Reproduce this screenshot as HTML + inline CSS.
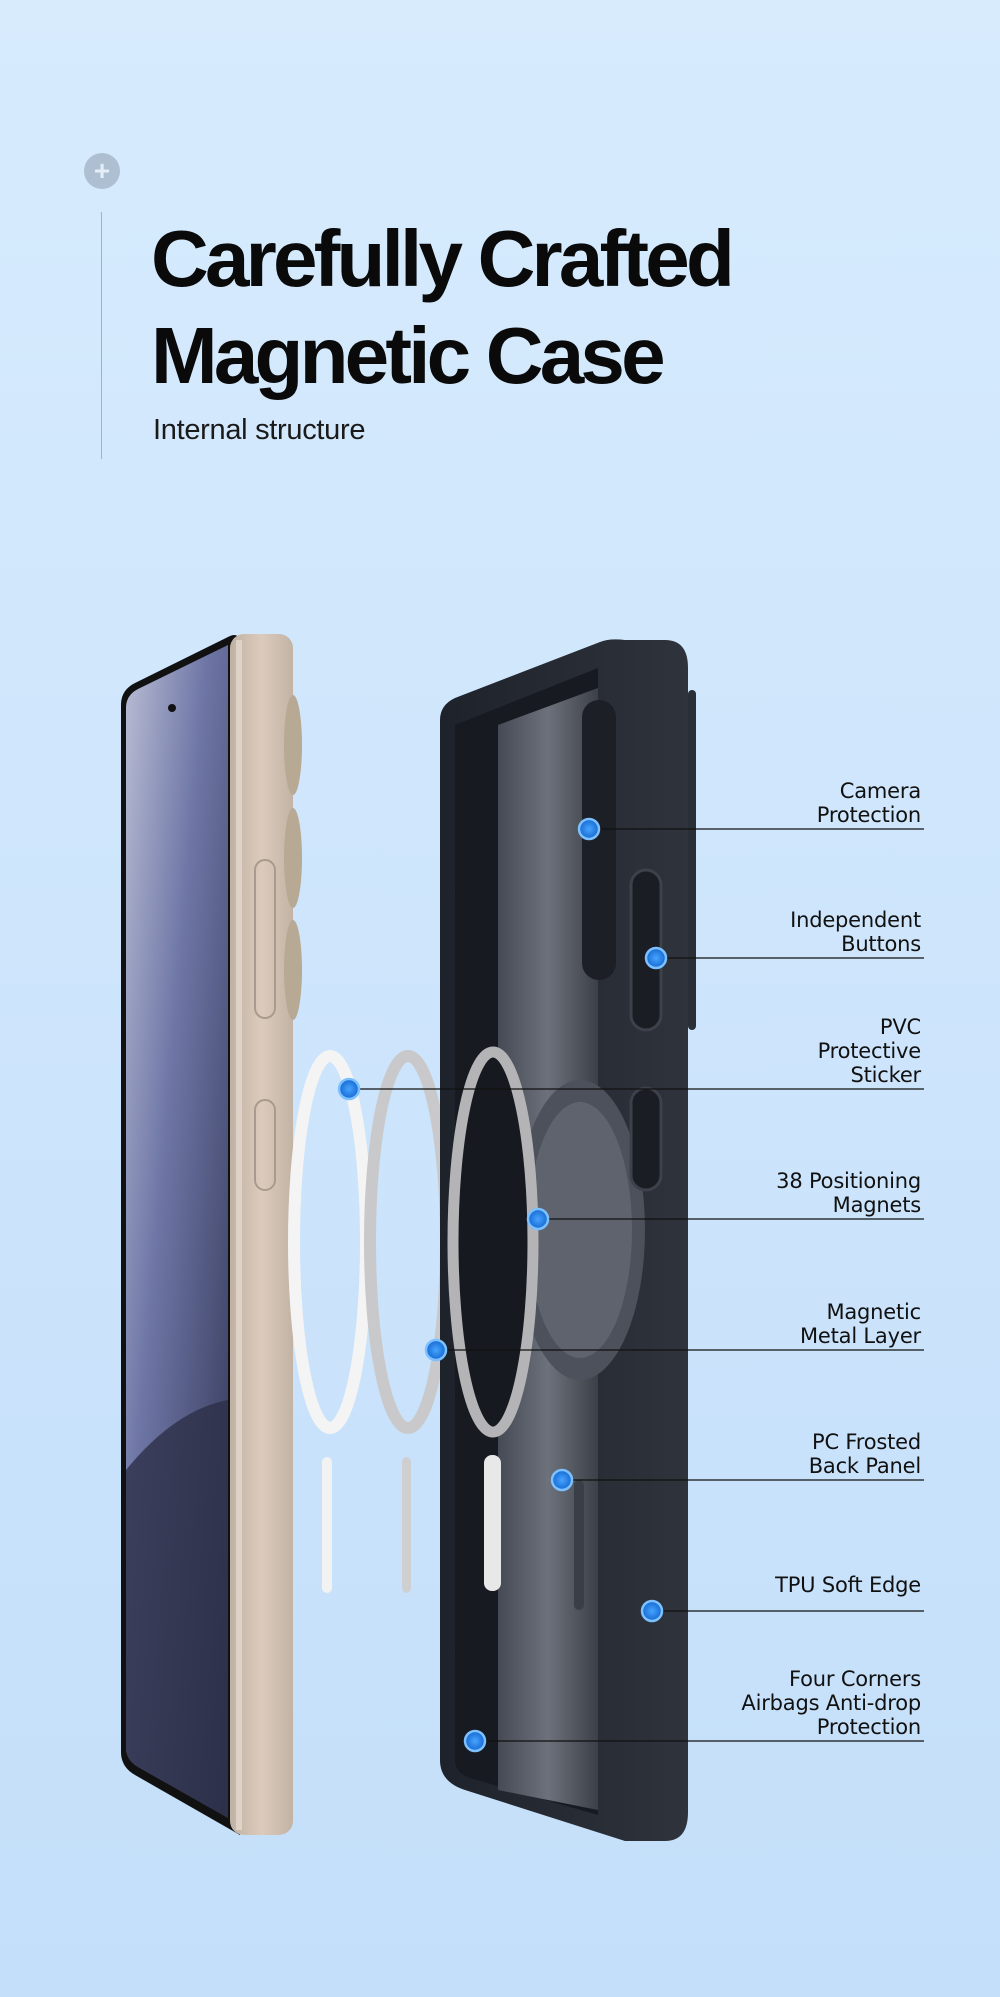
<!DOCTYPE html>
<html><head><meta charset="utf-8"><style>
html,body{margin:0;padding:0}
body{width:1000px;height:1997px;overflow:hidden;background:linear-gradient(180deg,#d7ebfd 0%,#cfe6fc 40%,#c4dffa 100%);position:relative;font-family:"Liberation Sans",sans-serif}
.t{position:absolute;left:151px;font-weight:bold;font-size:80px;letter-spacing:-3.8px;color:#0a0a0a;line-height:1}
.sub{position:absolute;left:153px;top:414px;font-size:29px;color:#1a1a1a;letter-spacing:-0.3px}
.lab{position:absolute;right:79px;text-align:right;font-size:21px;line-height:24px;color:#111;font-family:"DejaVu Sans","Liberation Sans",sans-serif;letter-spacing:-0.2px}
</style></head><body>
<div style="position:absolute;left:84px;top:153px;width:36px;height:36px;border-radius:50%;background:#aebfd2;color:#e4eef8;font-size:28px;font-weight:bold;text-align:center;line-height:36px">+</div>
<div style="position:absolute;left:101px;top:212px;width:1px;height:247px;background:#9fb3c7"></div>
<div class="t" style="top:219px">Carefully Crafted</div>
<div class="t" style="top:316px">Magnetic Case</div>
<div class="sub">Internal structure</div>

<svg width="1000" height="1997" style="position:absolute;left:0;top:0">
<defs>
<linearGradient id="scr" x1="0" y1="0" x2="1" y2="1"><stop offset="0" stop-color="#b9bdd4"/><stop offset=".4" stop-color="#6e76a6"/><stop offset="1" stop-color="#2f3350"/></linearGradient>
<linearGradient id="frm" x1="0" x2="1"><stop offset="0" stop-color="#bfb1a3"/><stop offset=".5" stop-color="#dccbbd"/><stop offset="1" stop-color="#c2b3a5"/></linearGradient>
<linearGradient id="cs" x1="0" x2="1"><stop offset="0" stop-color="#1e222a"/><stop offset="1" stop-color="#2f333c"/></linearGradient>
<linearGradient id="back" x1="0" x2="1"><stop offset="0" stop-color="#454a54"/><stop offset=".5" stop-color="#6c717b"/><stop offset="1" stop-color="#3c4049"/></linearGradient>
<radialGradient id="dot"><stop offset="0" stop-color="#46a4ff"/><stop offset="1" stop-color="#1669d0"/></radialGradient>
</defs>
<path d="M121 705 Q121 690 135 683 L230 636 Q240 632 240 645 L240 1835 L135 1775 Q121 1767 121 1752 Z" fill="#111"/>
<path d="M126 708 Q126 695 138 689 L228 645 L228 1818 L138 1767 Q126 1760 126 1748 Z" fill="url(#scr)"/>
<path d="M126 1470 Q175 1410 228 1400 L228 1818 L138 1767 Q126 1760 126 1748 Z" fill="#2d3047" opacity=".8"/>
<circle cx="172" cy="708" r="4" fill="#111"/>
<rect x="230" y="634" width="63" height="1201" rx="14" fill="url(#frm)"/>
<rect x="236" y="640" width="6" height="1190" fill="#efe5dc" opacity=".6"/>
<ellipse cx="293" cy="745" rx="9" ry="50" fill="#b8a995"/>
<ellipse cx="293" cy="858" rx="9" ry="50" fill="#b8a995"/>
<ellipse cx="293" cy="970" rx="9" ry="50" fill="#b8a995"/>
<rect x="255" y="860" width="20" height="158" rx="10" fill="none" stroke="#a89a8c" stroke-width="2"/>
<rect x="255" y="1100" width="20" height="90" rx="10" fill="none" stroke="#a89a8c" stroke-width="2"/>
<ellipse cx="330" cy="1242" rx="36" ry="186" fill="none" stroke="#f4f4f4" stroke-width="12"/>
<ellipse cx="408" cy="1242" rx="38" ry="186" fill="none" stroke="#c9c9cc" stroke-width="12"/>
<rect x="322" y="1457" width="10" height="136" rx="5" fill="#f2f2f2"/>
<rect x="402" y="1457" width="9" height="136" rx="5" fill="#cfcfd2"/>
<path d="M440 720 Q440 705 455 698 L600 642 Q610 638 625 640 L665 640 Q688 640 688 668 L688 1812 Q688 1841 665 1841 L625 1841 L465 1790 Q440 1782 440 1760 Z" fill="url(#cs)"/>
<rect x="688" y="690" width="8" height="340" rx="4" fill="#2a2e36"/>
<path d="M455 725 L598 668 L598 1815 L470 1778 Q455 1773 455 1760 Z" fill="#171a20"/>
<path d="M498 725 L598 688 L598 1810 L498 1790 Z" fill="url(#back)"/>
<rect x="582" y="700" width="34" height="280" rx="17" fill="#1c1f26"/>
<ellipse cx="580" cy="1230" rx="65" ry="150" fill="#4c515b"/>
<ellipse cx="580" cy="1230" rx="52" ry="128" fill="#5e636d"/>
<ellipse cx="493" cy="1242" rx="40" ry="190" fill="#16191f" stroke="#b4b4b6" stroke-width="11"/>
<rect x="484" y="1455" width="17" height="136" rx="8" fill="#e8e8e8"/>
<rect x="574" y="1480" width="10" height="130" rx="5" fill="#3a3e46"/>
<rect x="631" y="870" width="30" height="160" rx="15" fill="#1a1d23" stroke="#3c414a" stroke-width="3"/>
<rect x="631" y="1088" width="30" height="102" rx="15" fill="#1a1d23" stroke="#3c414a" stroke-width="3"/>
<g stroke="#111" stroke-width="1.3">
<line x1="589" y1="829" x2="924" y2="829"/>
<line x1="656" y1="958" x2="924" y2="958"/>
<line x1="349" y1="1089" x2="924" y2="1089"/>
<line x1="538" y1="1219" x2="924" y2="1219"/>
<line x1="436" y1="1350" x2="924" y2="1350"/>
<line x1="562" y1="1480" x2="924" y2="1480"/>
<line x1="652" y1="1611" x2="924" y2="1611"/>
<line x1="475" y1="1741" x2="924" y2="1741"/>
</g>
<g fill="url(#dot)" stroke="#7cc0ff" stroke-width="2.5">
<circle cx="589" cy="829" r="10"/><circle cx="656" cy="958" r="10"/><circle cx="349" cy="1089" r="10"/><circle cx="538" cy="1219" r="10"/>
<circle cx="436" cy="1350" r="10"/><circle cx="562" cy="1480" r="10"/><circle cx="652" cy="1611" r="10"/><circle cx="475" cy="1741" r="10"/>
</g>
</svg>

<div class="lab" style="top:779px">Camera<br>Protection</div>
<div class="lab" style="top:908px">Independent<br>Buttons</div>
<div class="lab" style="top:1015px">PVC<br>Protective<br>Sticker</div>
<div class="lab" style="top:1169px">38 Positioning<br>Magnets</div>
<div class="lab" style="top:1300px">Magnetic<br>Metal Layer</div>
<div class="lab" style="top:1430px">PC Frosted<br>Back Panel</div>
<div class="lab" style="top:1573px">TPU Soft Edge</div>
<div class="lab" style="top:1667px">Four Corners<br>Airbags Anti-drop<br>Protection</div>
</body></html>
